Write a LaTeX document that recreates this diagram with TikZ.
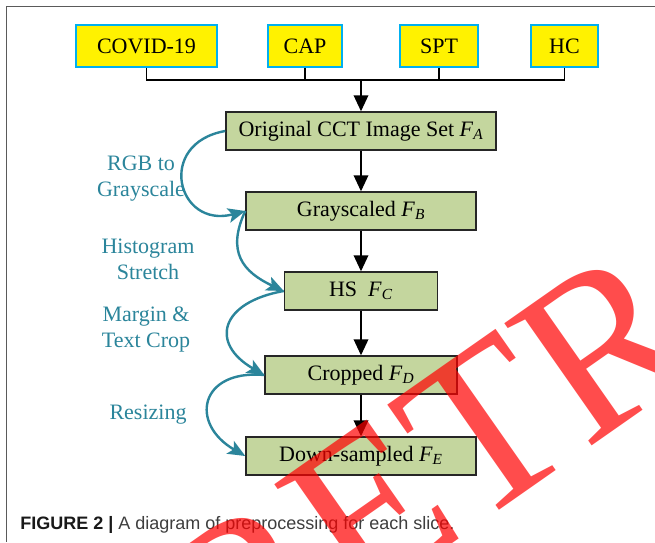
\documentclass[tikz,border=0pt]{standalone}
\usepackage{fontspec}
\setmainfont{Liberation Serif}
\newfontfamily\capfont{Liberation Sans}
\usetikzlibrary{arrows.meta}

\definecolor{flowteal}{RGB}{43,133,155}
\definecolor{stagegreen}{RGB}{196,214,158}
\definecolor{classblue}{RGB}{0,176,240}
\definecolor{framegray}{RGB}{90,90,90}
\definecolor{capgray}{RGB}{62,62,62}
\newcommand{\fset}[1]{\textit{F}\textsubscript{\textit{#1}}}

\begin{document}
\begin{tikzpicture}[x=0.75pt,y=0.75pt,
    cls/.style={draw=classblue, line width=1.5pt, fill=yellow, inner sep=0pt,
        minimum height=30.75pt, font=\fontsize{16.5}{19}\selectfont},
    stage/.style={draw=black!85, line width=1.1pt, fill=stagegreen, inner sep=0pt,
        minimum height=28.5pt, font=\fontsize{16.5}{19}\selectfont},
    bus/.style={line width=1.1pt},
    flow/.style={line width=1.1pt, -{Triangle[length=12pt,width=11pt]}},
    op/.style={draw=flowteal, line width=1.8pt, -{Stealth[length=13pt,width=11pt,inset=3pt]}},
    oplabel/.style={text=flowteal, align=center, inner sep=0pt,
        font=\fontsize{16.5}{19.5}\selectfont}]
    \useasboundingbox (0,0) rectangle (655,-542);
    \fill[white] (0,0) rectangle (655,-542);
    \clip (0,0) rectangle (655,-542);
    \draw[framegray, line width=0.9pt] (655,-6.5) -- (6.5,-6.5) -- (6.5,-542);

    \node[cls, minimum width=105.75pt](covid) at (146.5,-46){COVID-19};
    \node[cls, minimum width=55.5pt](cap) at (305,-46){CAP};
    \node[cls, minimum width=58.5pt](spt) at (439,-46){SPT};
    \node[cls, minimum width=50.25pt](hc) at (564.5,-46){HC};
    \coordinate(join) at (361,-80);

    \node[stage, minimum width=202.5pt](F_A) at (361,-131){Original CCT Image Set \fset{A}};
    \node[stage, minimum width=172.5pt](F_B) at (361,-211){Grayscaled \fset{B}};
    \node[stage, minimum width=114.75pt](F_C) at (361,-291){HS\enspace\fset{C}};
    \node[stage, minimum width=144pt](F_D) at (361,-375){Cropped \fset{D}};
    \node[stage, minimum width=172.5pt](F_E) at (361,-456){Down-sampled \fset{E}};

    \node[oplabel](rgb) at (141,-179){RGB to\\Grayscale};
    \node[oplabel](hist) at (148,-259){Histogram\\Stretch};
    \node[oplabel](crop) at (146,-330){Margin \&\\Text Crop};
    \node[oplabel](resize) at (148,-415){Resizing};

    \draw[bus](covid.south) |- (hc.south |- join) -- (hc.south);
    \draw[bus](cap.south) -- (cap.south |- join);
    \draw[bus](spt.south) -- (spt.south |- join);
    \draw[flow](join)--(F_A);
    \draw[flow](F_A)--(F_B);
    \draw[flow](F_B)--(F_C);
    \draw[flow](F_C)--(F_D);
    \draw[flow](F_D)--(F_E);

    \draw[op](F_A.west) to[out=190,in=195,looseness=2.2] (F_B.west);
    \draw[op](F_B.west) to[out=245,in=155,looseness=1.3] (F_C.west);
    \draw[op](F_C.west) to[out=190,in=150,looseness=1.9] (F_D.west);
    \draw[op](F_D.west) to[out=175,in=150,looseness=2] (F_E.west);

    \node[anchor=base west, inner sep=0pt, font=\capfont\fontsize{13.5}{16}\selectfont,
        text=capgray](caption) at (20,-529)
        {\textcolor{black!90}{\textbf{FIGURE 2 |}} A diagram of preprocessing for each slice.};

    \node[anchor=base west, inner sep=0pt, rotate=35, text=red, text opacity=0.7,
        font=\fontsize{172}{172}\selectfont](stamp) at (230,-699){RETRACTED};
\end{tikzpicture}
\end{document}
